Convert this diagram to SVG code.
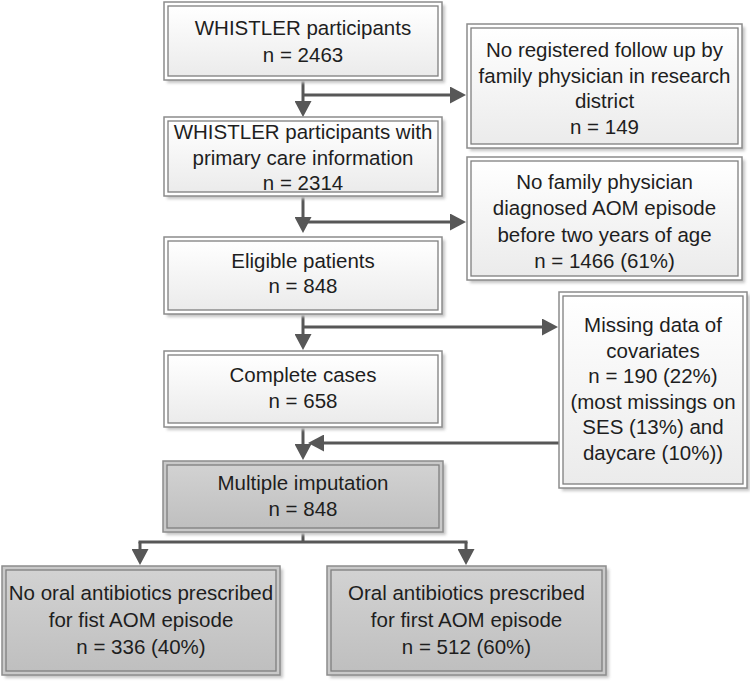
<svg xmlns="http://www.w3.org/2000/svg" width="750" height="681" viewBox="0 0 750 681">
<defs>
<linearGradient id="gw" x1="0" y1="0" x2="0" y2="1"><stop offset="0" stop-color="#ffffff"/><stop offset="1" stop-color="#ebebeb"/></linearGradient>
<linearGradient id="gg" x1="0" y1="0" x2="0" y2="1"><stop offset="0" stop-color="#d2d2d2"/><stop offset="1" stop-color="#bfbfbf"/></linearGradient>
<filter id="sh" x="-5%" y="-5%" width="115%" height="120%"><feGaussianBlur stdDeviation="1.5"/></filter>
<marker id="ah" markerUnits="userSpaceOnUse" markerWidth="17" markerHeight="17" refX="8" refY="8.5" orient="auto"><path d="M0,0 L16,8.5 L0,17 z" fill="#575757"/></marker>
</defs>
<style>
.sh{fill:#c4c4c4;filter:url(#sh)}
.o{stroke:#8c8c8c;stroke-width:1.5}
.i{fill:none;stroke:#7f7f7f;stroke-width:1.3}
.w{fill:#ffffff}
.g{fill:#c9c9c9}
.wi{fill:url(#gw)}
.gi{fill:url(#gg)}
text{font-family:"Liberation Sans",Arial,sans-serif;font-size:20.5px;fill:#1e1e1e;text-anchor:middle}
.c line,.c path{stroke:#575757;stroke-width:3;fill:none}
</style>

<g class="c" id="connectors">
<line x1="303" y1="80" x2="303" y2="109" marker-end="url(#ah)"/>
<line x1="303" y1="95" x2="458" y2="95" marker-end="url(#ah)"/>
<line x1="303" y1="196" x2="303" y2="225" marker-end="url(#ah)"/>
<line x1="303" y1="222" x2="458" y2="222" marker-end="url(#ah)"/>
<line x1="303" y1="314" x2="303" y2="342" marker-end="url(#ah)"/>
<line x1="303" y1="327" x2="550" y2="327" marker-end="url(#ah)"/>
<line x1="303" y1="427" x2="303" y2="452" marker-end="url(#ah)"/>
<line x1="559" y1="443" x2="316" y2="443" marker-end="url(#ah)"/>
<line x1="303" y1="532" x2="303" y2="542"/>
<line x1="138.5" y1="542" x2="467.5" y2="542"/>
<line x1="140" y1="542" x2="140" y2="557" marker-end="url(#ah)"/>
<line x1="466" y1="542" x2="466" y2="557" marker-end="url(#ah)"/>
</g>

<g id="n1">
<rect class="sh" x="167" y="5" width="278" height="78"/>
<rect class="o w" x="164" y="2" width="278" height="78"/>
<rect class="i wi" x="168" y="6" width="270" height="70"/>
<text x="303" y="35">WHISTLER participants</text>
<text x="303" y="62">n = 2463</text>
</g>

<g id="s1">
<rect class="sh" x="470" y="27" width="275" height="124"/>
<rect class="o w" x="467" y="24" width="275" height="124"/>
<rect class="i wi" x="471" y="28" width="267" height="116"/>
<text x="604.5" y="57">No registered follow up by</text>
<text x="604.5" y="82.5">family physician in research</text>
<text x="604.5" y="108">district</text>
<text x="604.5" y="133.5">n = 149</text>
</g>

<g id="n2">
<rect class="sh" x="167" y="120" width="278" height="79"/>
<rect class="o w" x="164" y="117" width="278" height="79"/>
<rect class="i wi" x="168" y="121" width="270" height="71"/>
<text x="303" y="139">WHISTLER participants with</text>
<text x="303" y="164.5">primary care information</text>
<text x="303" y="190">n = 2314</text>
</g>

<g id="s2">
<rect class="sh" x="470" y="160" width="275" height="123"/>
<rect class="o w" x="467" y="157" width="275" height="123"/>
<rect class="i wi" x="471" y="161" width="267" height="115"/>
<text x="604.5" y="189">No family physician</text>
<text x="604.5" y="215">diagnosed AOM episode</text>
<text x="604.5" y="241.5">before two years of age</text>
<text x="604.5" y="268">n = 1466 (61%)</text>
</g>

<g id="n3">
<rect class="sh" x="167" y="240" width="278" height="77"/>
<rect class="o w" x="164" y="237" width="278" height="77"/>
<rect class="i wi" x="168" y="241" width="270" height="69"/>
<text x="303" y="268">Eligible patients</text>
<text x="303" y="293">n = 848</text>
</g>

<g id="s3">
<rect class="sh" x="562" y="295" width="188" height="196"/>
<rect class="o w" x="559" y="292" width="188" height="196"/>
<rect class="i wi" x="563" y="296" width="180" height="188"/>
<text x="653" y="332">Missing data of</text>
<text x="653" y="357.5">covariates</text>
<text x="653" y="383">n = 190 (22%)</text>
<text x="653" y="408.5">(most missings on</text>
<text x="653" y="434">SES (13%) and</text>
<text x="653" y="459.5">daycare (10%))</text>
</g>

<g id="n4">
<rect class="sh" x="167" y="354" width="278" height="76"/>
<rect class="o w" x="164" y="351" width="278" height="76"/>
<rect class="i wi" x="168" y="355" width="270" height="68"/>
<text x="303" y="382">Complete cases</text>
<text x="303" y="408">n = 658</text>
</g>

<g id="n5">
<rect class="sh" x="166" y="464" width="280" height="71"/>
<rect class="o g" x="163" y="461" width="280" height="71"/>
<rect class="i gi" x="167" y="465" width="272" height="63"/>
<text x="303" y="490">Multiple imputation</text>
<text x="303" y="516">n = 848</text>
</g>

<g id="b1">
<rect class="sh" x="5" y="569" width="278" height="109"/>
<rect class="o g" x="2" y="566" width="278" height="109"/>
<rect class="i gi" x="6" y="570" width="270" height="101"/>
<text x="141" y="600">No oral antibiotics prescribed</text>
<text x="141" y="627">for fist AOM episode</text>
<text x="141" y="654">n = 336 (40%)</text>
</g>

<g id="b2">
<rect class="sh" x="330" y="569" width="279" height="109"/>
<rect class="o g" x="327" y="566" width="279" height="109"/>
<rect class="i gi" x="331" y="570" width="271" height="101"/>
<text x="466.5" y="600">Oral antibiotics prescribed</text>
<text x="466.5" y="627">for first AOM episode</text>
<text x="466.5" y="654">n = 512 (60%)</text>
</g>
</svg>
